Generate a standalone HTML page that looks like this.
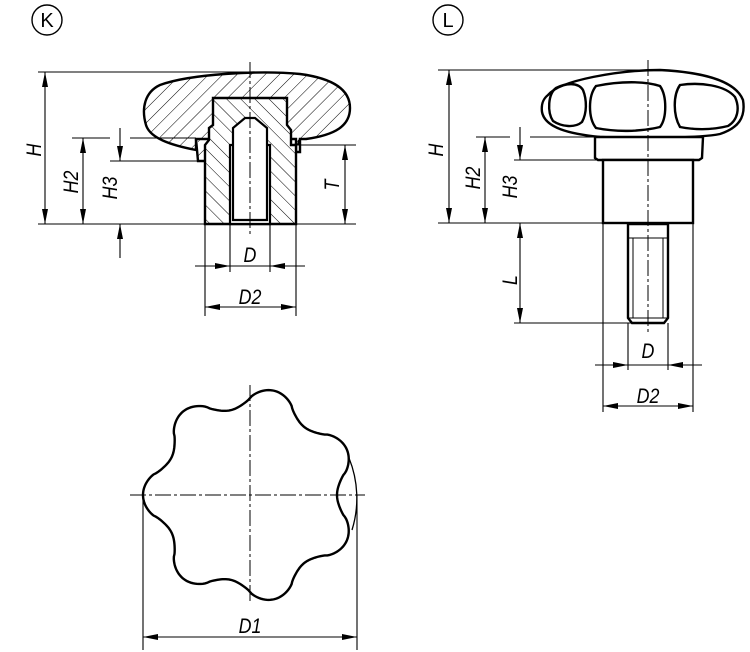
<!DOCTYPE html>
<html><head><meta charset="utf-8"><style>
html,body{margin:0;padding:0;background:#fff;}
svg{display:block;}
text{font-family:"Liberation Sans",sans-serif;font-style:italic;font-size:21px;fill:#000;}
</style></head><body>
<svg width="750" height="652" viewBox="0 0 750 652" xmlns="http://www.w3.org/2000/svg">
<defs>
<marker id="a" viewBox="0 0 15 6" refX="15" refY="3" markerWidth="15" markerHeight="6" markerUnits="userSpaceOnUse" orient="auto-start-reverse"><path d="M0,0 L15,3 L0,6 Z" fill="#000"/></marker>
<pattern id="h1" width="10" height="10" patternUnits="userSpaceOnUse" patternTransform="rotate(45)"><line x1="0" y1="0" x2="0" y2="10" stroke="#000" stroke-width="1"/></pattern>
<pattern id="h2" width="10" height="10" patternUnits="userSpaceOnUse" patternTransform="rotate(-45)"><line x1="0" y1="0" x2="0" y2="10" stroke="#000" stroke-width="1"/></pattern>
</defs>

<circle cx="47" cy="20" r="15" fill="none" stroke="#000" stroke-width="1.4"/>
<text x="47" y="27" text-anchor="middle" style="font-style:normal;font-size:20px">K</text>
<circle cx="448" cy="20" r="15" fill="none" stroke="#000" stroke-width="1.4"/>
<text x="448" y="27" text-anchor="middle" style="font-style:normal;font-size:20px">L</text>

<g stroke="#000" fill="none">
<!-- LEFT -->
<path d="M196,139 L196,150 C170,145 150,138 146,125 C141,108 145,92 160,85 C190,74 260,70 300,74 C330,78 350,88 350,108 C350,126 335,135 306,139 L300,139 L300,152 L296,152 L296,139 Z" fill="url(#h1)" stroke-width="2.4"/>
<path d="M198,139 L198,161 L205,161 L205,145 L300,145 L300,139 Z" fill="url(#h1)" stroke="none"/>
<polyline points="196,139 198,161 205,161" stroke-width="2.4"/>
<polyline points="300,139 298,145" stroke-width="2.4"/>
<path d="M213,98 L287,98 L287,125 L291,130 L291,145 L296,145 L296,224 L205,224 L205,145 L209,140 L209,128 L213,125 Z" fill="#fff" stroke="none"/>
<path d="M213,98 L287,98 L287,125 L291,130 L291,145 L296,145 L296,224 L205,224 L205,145 L209,140 L209,128 L213,125 Z" fill="url(#h2)" stroke-width="2.4"/>
<path d="M230,145 L270,145 L270,224 L230,224 Z" fill="#fff" stroke-width="2.2"/>
<path d="M233,128 L245,118 L255,118 L267,128 L267,220 L233,220 Z" fill="#fff" stroke-width="2.2"/>
<line x1="250" y1="62" x2="250" y2="235" stroke-width="1" stroke-dasharray="16,3,3,3"/>
<g stroke-width="1.1">
<line x1="38" y1="72" x2="250" y2="72"/>
<line x1="38" y1="224" x2="356" y2="224"/>
<line x1="45" y1="72" x2="45" y2="224" marker-start="url(#a)" marker-end="url(#a)"/>
<line x1="72" y1="138" x2="110" y2="138"/>
<line x1="130" y1="138" x2="196" y2="138"/>
<line x1="83" y1="138" x2="83" y2="224" marker-start="url(#a)" marker-end="url(#a)"/>
<line x1="110" y1="161" x2="197" y2="161"/>
<line x1="120" y1="128" x2="120" y2="161" marker-end="url(#a)"/>
<line x1="120" y1="258" x2="120" y2="224" marker-end="url(#a)"/>
<line x1="296" y1="145" x2="356" y2="145"/>
<line x1="345" y1="145" x2="345" y2="224" marker-start="url(#a)" marker-end="url(#a)"/>
<line x1="230" y1="224" x2="230" y2="272"/>
<line x1="270" y1="224" x2="270" y2="272"/>
<line x1="195" y1="266" x2="230" y2="266" marker-end="url(#a)"/>
<line x1="305" y1="266" x2="270" y2="266" marker-end="url(#a)"/>
<line x1="230" y1="266" x2="270" y2="266"/>
<line x1="205" y1="224" x2="205" y2="316"/>
<line x1="296" y1="224" x2="296" y2="316"/>
<line x1="205" y1="307" x2="296" y2="307" marker-start="url(#a)" marker-end="url(#a)"/>
</g>

<!-- RIGHT -->
<path d="M548,95 C560,80 620,70 660,70 C700,72 735,80 743,100 C746,118 738,128 720,134 C700,138 640,139 600,137 C570,134 545,128 542,112 C541,104 543,99 548,95 Z" stroke-width="2.4" fill="#fff"/>
<path d="M556,88 C566,83 578,82 583,90 C587,100 587,113 582,122 C575,128 562,127 553,121 C547,112 548,94 556,88 Z" stroke-width="2.4"/>
<path d="M596,86 C620,81 645,81 660,86 C667,96 667,118 660,127 C640,132 615,132 596,128 C588,118 588,96 596,86 Z" stroke-width="2.4"/>
<path d="M680,85 C700,82 725,85 735,97 C740,108 738,120 728,126 C712,130 695,130 680,127 C673,115 673,95 680,85 Z" stroke-width="2.4"/>
<path d="M595,137 L703,137 L702,158 L699,160 L598,160 L595,158 Z" stroke-width="2.4" fill="#fff"/>
<rect x="603" y="160" width="90" height="63" stroke-width="2.4" fill="#fff"/>
<path d="M628,224 L668,224 L668,318 L664,323 L632,323 L628,318 Z" stroke-width="2.4" fill="#fff"/>
<line x1="633" y1="238" x2="633" y2="318" stroke-width="1"/>
<line x1="663" y1="238" x2="663" y2="318" stroke-width="1"/>
<line x1="628" y1="238" x2="668" y2="238" stroke-width="1"/>
<line x1="628" y1="318" x2="668" y2="318" stroke-width="1"/>
<line x1="648" y1="60" x2="648" y2="332" stroke-width="1" stroke-dasharray="16,3,3,3"/>
<g stroke-width="1.1">
<line x1="438" y1="70" x2="648" y2="70"/>
<line x1="438" y1="223" x2="603" y2="223"/>
<line x1="449" y1="70" x2="449" y2="223" marker-start="url(#a)" marker-end="url(#a)"/>
<line x1="476" y1="137" x2="510" y2="137"/>
<line x1="530" y1="137" x2="595" y2="137"/>
<line x1="485" y1="137" x2="485" y2="223" marker-start="url(#a)" marker-end="url(#a)"/>
<line x1="514" y1="160" x2="598" y2="160"/>
<line x1="520" y1="127" x2="520" y2="160" marker-end="url(#a)"/>
<line x1="520" y1="223" x2="520" y2="323" marker-start="url(#a)" marker-end="url(#a)"/>
<line x1="514" y1="323" x2="632" y2="323"/>
<line x1="603" y1="223" x2="603" y2="412"/>
<line x1="693" y1="223" x2="693" y2="412"/>
<line x1="628" y1="323" x2="628" y2="370"/>
<line x1="668" y1="323" x2="668" y2="370"/>
<line x1="595" y1="365" x2="628" y2="365" marker-end="url(#a)"/>
<line x1="702" y1="365" x2="668" y2="365" marker-end="url(#a)"/>
<line x1="628" y1="365" x2="668" y2="365"/>
<line x1="603" y1="406" x2="693" y2="406" marker-start="url(#a)" marker-end="url(#a)"/>
</g>

<!-- STAR -->
<path id="star" stroke-width="2.4"/>
<path d="M349,458 A107,107 0 0 1 352,530" stroke-width="1.3"/>
<line x1="130" y1="495" x2="365" y2="495" stroke-width="1" stroke-dasharray="16,3,3,3"/>
<line x1="250" y1="385" x2="250" y2="602" stroke-width="1" stroke-dasharray="16,3,3,3"/>
<g stroke-width="1.1">
<line x1="143" y1="495" x2="143" y2="650"/>
<line x1="357" y1="495" x2="357" y2="650"/>
<line x1="143" y1="637" x2="357" y2="637" marker-start="url(#a)" marker-end="url(#a)"/>
</g>
</g>

<!-- labels -->
<text transform="translate(41,150) rotate(-90) scale(0.85,1)" text-anchor="middle">H</text>
<text transform="translate(78,182) rotate(-90) scale(0.85,1)" text-anchor="middle">H2</text>
<text transform="translate(117,188) rotate(-90) scale(0.85,1)" text-anchor="middle">H3</text>
<text transform="translate(339,185) rotate(-90) scale(0.85,1)" text-anchor="middle">T</text>
<text transform="translate(250,262) scale(0.85,1)" text-anchor="middle">D</text>
<text transform="translate(250,304) scale(0.85,1)" text-anchor="middle">D2</text>
<text transform="translate(443,150) rotate(-90) scale(0.85,1)" text-anchor="middle">H</text>
<text transform="translate(480,178) rotate(-90) scale(0.85,1)" text-anchor="middle">H2</text>
<text transform="translate(517,187) rotate(-90) scale(0.85,1)" text-anchor="middle">H3</text>
<text transform="translate(517,280) rotate(-90) scale(0.85,1)" text-anchor="middle">L</text>
<text transform="translate(648,358) scale(0.85,1)" text-anchor="middle">D</text>
<text transform="translate(648,403) scale(0.85,1)" text-anchor="middle">D2</text>
<text transform="translate(250,633) scale(0.85,1)" text-anchor="middle">D1</text>

<script>
(function(){
var cx=250,cy=495,d="";
for(var i=0;i<=360;i++){
 var t=i*Math.PI/180;
 var c=Math.cos(7*t);
 var r=97-10*(Math.sign(c)*Math.pow(Math.abs(c),0.8));
 var x=cx+r*Math.cos(t), y=cy-r*Math.sin(t);
 d+=(i?"L":"M")+x.toFixed(2)+","+y.toFixed(2);
}
document.getElementById("star").setAttribute("d",d+"Z");
})();
</script>
</svg>
</body></html>
